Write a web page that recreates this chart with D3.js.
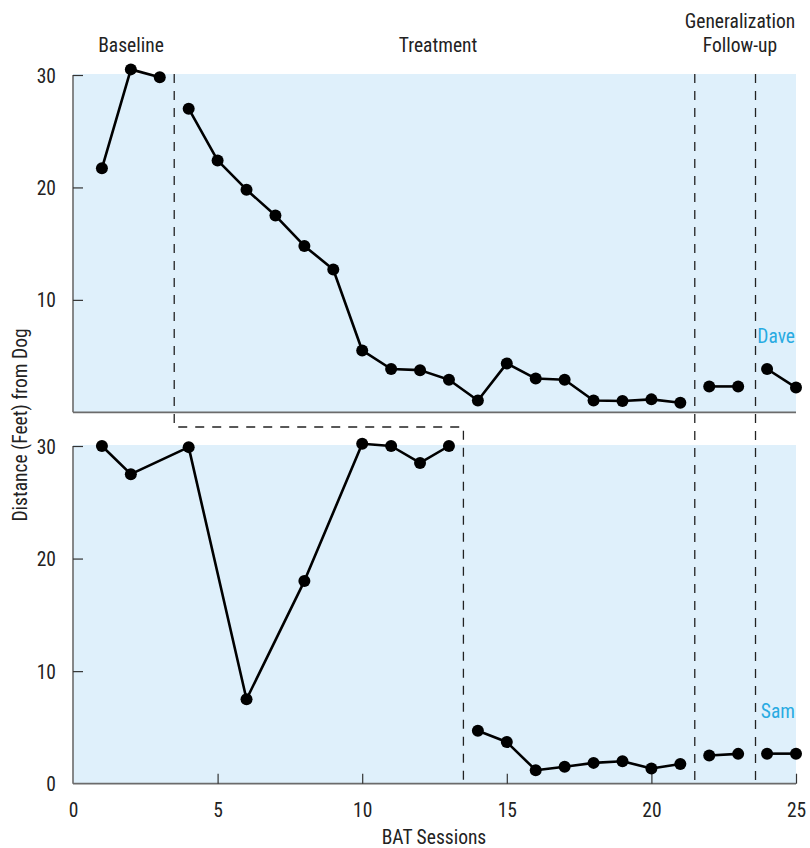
<!DOCTYPE html>
<html>
<head>
<meta charset="utf-8">
<script src="https://cdn.jsdelivr.net/npm/d3@7"></script>
<style>
  html, body { margin: 0; padding: 0; background: #fff; }
  svg text { font-family: "Liberation Sans Narrow", "Roboto Condensed", "DejaVu Sans Condensed", "Liberation Sans", sans-serif; font-weight: 400; fill: #222; }
</style>
</head>
<body>
<svg id="chart" width="810" height="848"></svg>
<script>
// ---- data ----
const daveSessions = [1,2,3,4,5,6,7,8,9,10,11,12,13,14,15,16,17,18,19,20,21,22,23,24,25];
const daveValues   = [21.7,30.5,29.8,27.0,22.4,19.8,17.5,14.8,12.7,5.5,3.85,3.75,2.9,1.05,4.35,3.0,2.9,1.05,1.0,1.15,0.85,2.3,2.3,3.85,2.2];
const davePhase    = [0,0,0,1,1,1,1,1,1,1,1,1,1,1,1,1,1,1,1,1,1,2,2,3,3];

const samSessions  = [1,2,4,6,8,10,11,12,13,14,15,16,17,18,19,20,21,22,23,24,25];
const samValues    = [30.0,27.5,29.9,7.5,18.0,30.2,30.0,28.5,30.0,4.7,3.7,1.2,1.5,1.85,2.0,1.35,1.75,2.5,2.65,2.67,2.67];
const samPhase     = [0,0,0,0,0,0,0,0,0,1,1,1,1,1,1,1,1,2,2,3,3];

const phaseLabels  = ["Baseline", "Treatment", "Generalization", "Follow-up"];
const daveChanges  = [3.5, 21.5, 23.6];
const samChanges   = [13.5, 21.5, 23.6];
const xTicks = [0,5,10,15,20,25];
const yTicks = [10,20,30];

// ---- layout ----
const svg = d3.select("#chart");
const x = d3.scaleLinear().domain([0,25]).range([73,796]);
const yTop = d3.scaleLinear().domain([0,30]).range([412.3,75]);
const yBot = d3.scaleLinear().domain([0,30]).range([783.7,446]);
const bg = "#dff0fb";
const axisCol = "#6b6b6b";
const dash = "9,8";
const fs = "19.5px";

function panel(y, sessions, values, phases, name, showXAxis, nameY) {
  svg.append("rect").attr("x", x(0)).attr("y", y(30) - 1)
    .attr("width", x(25) - x(0)).attr("height", y(0) - y(30) + 1).attr("fill", bg);

  // y axis
  const ya = svg.append("g").attr("transform", `translate(${x(0)},0)`)
    .call(d3.axisRight(y).tickValues(showXAxis ? [0].concat(yTicks) : yTicks).tickSize(10).tickFormat(d3.format("d")));
  ya.select(".domain").attr("stroke", axisCol).attr("stroke-width", 1.6).attr("d", `M0,${y(30)}V${y(0)}`);
  ya.selectAll(".tick line").attr("stroke", "#333").attr("stroke-width", 1.2);
  ya.selectAll(".tick text").attr("x", -17).attr("text-anchor", "end").attr("dy", "0.36em")
    .style("font-size", fs).attr("fill", "#222");
  ya.selectAll(".tick").filter(d => d === 0).select("line").remove();

  // x baseline
  if (showXAxis) {
    const xa = svg.append("g").attr("transform", `translate(0,${y(0)})`)
      .call(d3.axisTop(x).tickValues(xTicks).tickSize(10).tickFormat(d3.format("d")));
    xa.select(".domain").attr("stroke", axisCol).attr("stroke-width", 1.8).attr("d", `M${x(0)},0H${x(25)}`);
    xa.selectAll(".tick line").attr("stroke", "#333").attr("stroke-width", 1.2);
    xa.selectAll(".tick").filter(d => d === 0).select("line").remove();
    xa.selectAll(".tick text").attr("y", 33).attr("dy", 0).style("font-size", fs).attr("fill", "#222");
  } else {
    svg.append("line").attr("x1", x(0)).attr("x2", x(25)).attr("y1", y(0)).attr("y2", y(0))
      .attr("stroke", axisCol).attr("stroke-width", 1.8);
  }

  // lines by phase
  const pts = sessions.map((s,i) => ({s, v: values[i], p: phases[i]}));
  const groups = d3.groups(pts, d => d.p);
  const line = d3.line().x(d => x(d.s)).y(d => y(d.v));
  groups.forEach(([p, arr]) => {
    svg.append("path").attr("d", line(arr)).attr("fill", "none")
      .attr("stroke", "#000").attr("stroke-width", 2.6).attr("stroke-linejoin", "round");
  });
  svg.append("g").selectAll("circle").data(pts).join("circle")
    .attr("cx", d => x(d.s)).attr("cy", d => y(d.v)).attr("r", 6).attr("fill", "#000");

  svg.append("text").attr("x", 795).attr("y", nameY).attr("text-anchor", "end")
    .style("font-size", fs).style("fill", "#29abe2").text(name);
}

panel(yTop, daveSessions, daveValues, davePhase, "Dave", false, 343);
panel(yBot, samSessions, samValues, samPhase, "Sam", true, 718);

// phase change lines
const dl = svg.append("g").attr("fill", "none").attr("stroke", "#222").attr("stroke-width", 1.3).attr("stroke-dasharray", dash);
const stepY = 427;
dl.append("path").attr("d",
  `M${x(daveChanges[0])},${yTop(30)-1}V${stepY}H${x(samChanges[0])}V${yBot(0)}`);
[1,2].forEach(i => {
  dl.append("line").attr("x1", x(daveChanges[i])).attr("x2", x(daveChanges[i]))
    .attr("y1", yTop(30) - 1).attr("y2", yBot(0));
});

// phase labels
const lab = svg.append("g").style("font-size", fs);
lab.append("text").attr("x", 131).attr("y", 52).attr("text-anchor", "middle").text(phaseLabels[0]);
lab.append("text").attr("x", 438).attr("y", 52).attr("text-anchor", "middle").text(phaseLabels[1]);
lab.append("text").attr("x", 740).attr("y", 28).attr("text-anchor", "middle").text(phaseLabels[2]);
lab.append("text").attr("x", 740).attr("y", 52).attr("text-anchor", "middle").text(phaseLabels[3]);

// axis titles
svg.append("text").attr("transform", "translate(27,425) rotate(-90)").attr("text-anchor", "middle")
  .style("font-size", fs).text("Distance (Feet) from Dog");
svg.append("text").attr("x", 434).attr("y", 844).attr("text-anchor", "middle")
  .style("font-size", fs).text("BAT Sessions");
</script>
</body>
</html>
